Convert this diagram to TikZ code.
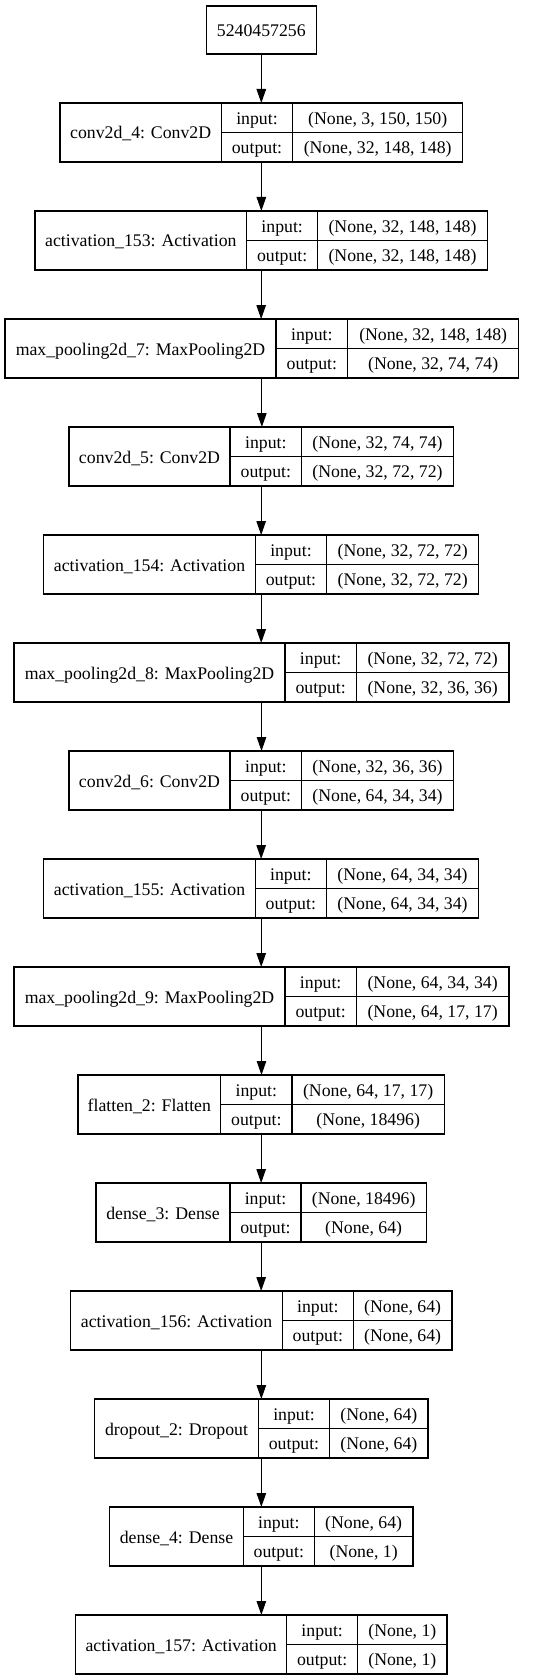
\documentclass[tikz,border=0pt]{standalone}
\usepackage{fontspec}
\setmainfont{Liberation Serif}
\usetikzlibrary{arrows.meta}
\tikzset{
  cell/.style={draw=black, line width=1.1pt, inner sep=0pt, text height=13pt, text depth=0pt,
    font=\fontsize{17.75}{21}\selectfont},
  outerbox/.style={inner sep=0pt, outer sep=0pt, draw=none},
  arr/.style={draw=black, line width=1.1pt, -{Triangle[length=14pt,width=9.5pt]}}
}
\newcommand{\klayer}[9]{%
  \node[cell, minimum width={(#4-#3)*1pt}, minimum height=59pt] (#1-l) at ({(#3+#4)/2},{#2+29.5}) {#7};
  \node[cell, minimum width={(#5-#4)*1pt}, minimum height=29.5pt] (#1-ik) at ({(#4+#5)/2},{#2+14.75}) {input:};
  \node[cell, minimum width={(#5-#4)*1pt}, minimum height=29.5pt] (#1-ok) at ({(#4+#5)/2},{#2+44.25}) {output:};
  \node[cell, minimum width={(#6-#5)*1pt}, minimum height=29.5pt] (#1-iv) at ({(#5+#6)/2},{#2+14.75}) {#8};
  \node[cell, minimum width={(#6-#5)*1pt}, minimum height=29.5pt] (#1-ov) at ({(#5+#6)/2},{#2+44.25}) {#9};
  \node[outerbox, minimum width={(#6-#3)*1pt}, minimum height=59pt] (#1) at ({(#3+#6)/2},{#2+29.5}) {};
}
\begin{document}
\begin{tikzpicture}[x=1pt,y=-1pt]
\useasboundingbox[fill=white] (0,0) rectangle (544,1680);
\node[cell, minimum width=110pt, minimum height=48pt] (inp) at (261.3,30) {5240457256};
\klayer{L0}{103}{60}{221.3}{292.7}{462.7}{conv2d\_4: Conv2D}{(None, 3, 150, 150)}{(None, 32, 148, 148)}
\klayer{L1}{211}{35}{246.7}{317.7}{487.3}{activation\_153: Activation}{(None, 32, 148, 148)}{(None, 32, 148, 148)}
\klayer{L2}{319}{5}{276}{347.7}{518.7}{max\_pooling2d\_7: MaxPooling2D}{(None, 32, 148, 148)}{(None, 32, 74, 74)}
\klayer{L3}{427}{69}{230}{301.7}{453.3}{conv2d\_5: Conv2D}{(None, 32, 74, 74)}{(None, 32, 72, 72)}
\klayer{L4}{535}{43.7}{255.3}{326.7}{478.7}{activation\_154: Activation}{(None, 32, 72, 72)}{(None, 32, 72, 72)}
\klayer{L5}{643}{14}{285}{356.3}{509}{max\_pooling2d\_8: MaxPooling2D}{(None, 32, 72, 72)}{(None, 32, 36, 36)}
\klayer{L6}{751}{69}{230}{301.7}{453.3}{conv2d\_6: Conv2D}{(None, 32, 36, 36)}{(None, 64, 34, 34)}
\klayer{L7}{859}{43.7}{255.3}{326.3}{478.7}{activation\_155: Activation}{(None, 64, 34, 34)}{(None, 64, 34, 34)}
\klayer{L8}{967}{14}{285}{356.3}{509}{max\_pooling2d\_9: MaxPooling2D}{(None, 64, 34, 34)}{(None, 64, 17, 17)}
\klayer{L9}{1075}{78}{220.7}{292}{444.3}{flatten\_2: Flatten}{(None, 64, 17, 17)}{(None, 18496)}
\klayer{L10}{1183}{96}{230}{301}{426.3}{dense\_3: Dense}{(None, 18496)}{(None, 64)}
\klayer{L11}{1291}{70.7}{282.3}{353.3}{452}{activation\_156: Activation}{(None, 64)}{(None, 64)}
\klayer{L12}{1399}{94.7}{258.3}{329.7}{428}{dropout\_2: Dropout}{(None, 64)}{(None, 64)}
\klayer{L13}{1507}{109.7}{243.3}{314.3}{413}{dense\_4: Dense}{(None, 64)}{(None, 1)}
\klayer{L14}{1615}{75.7}{286.7}{357.7}{447}{activation\_157: Activation}{(None, 1)}{(None, 1)}
\foreach \a/\b in {inp/L0,L0/L1,L1/L2,L2/L3,L3/L4,L4/L5,L5/L6,L6/L7,L7/L8,L8/L9,L9/L10,L10/L11,L11/L12,L12/L13,L13/L14}
  \draw[arr] (\a.south) -- (\a.south |- \b.north);
\end{tikzpicture}
\end{document}
